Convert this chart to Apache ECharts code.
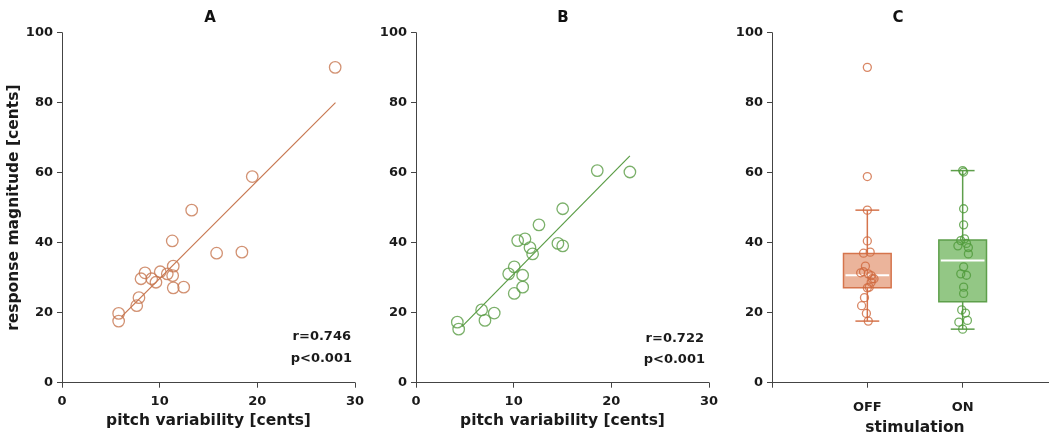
<!DOCTYPE html>
<html><head><meta charset="utf-8">
<script src="https://cdn.jsdelivr.net/npm/echarts@6/dist/echarts.min.js"></script>
<style>html,body{margin:0;padding:0;background:#fff}#c{width:1049px;height:439px}</style>
</head><body><div id="c"></div>
<script>
// Panel A (OFF): pitch variability vs response magnitude
const pitchVarA = [27.97, 19.48, 13.28, 11.29, 15.83, 18.42, 11.39, 8.50, 10.06, 10.78, 11.33, 8.09, 9.18, 9.62, 11.39, 12.46, 7.88, 7.65, 5.80, 5.80];
const respA     = [90.1, 58.9, 49.3, 40.5, 37.0, 37.3, 33.3, 31.4, 31.7, 31.1, 30.6, 29.7, 29.7, 28.7, 27.1, 27.3, 24.3, 22.0, 19.8, 17.6];
// Panel B (ON)
const pitchVarB = [18.56, 21.90, 15.02, 12.59, 10.41, 11.16, 14.53, 15.02, 11.67, 11.94, 10.06, 9.49, 10.92, 10.92, 10.06, 6.72, 8.01, 7.06, 4.23, 4.37];
const respB     = [60.6, 60.2, 49.7, 45.1, 40.6, 41.1, 39.8, 39.1, 38.6, 36.8, 33.1, 31.1, 30.7, 27.3, 25.5, 20.8, 19.9, 17.8, 17.3, 15.3];
// regression line end points
const fitA = [[6.1, 18.9], [28.0, 80.0]];
const fitB = [[4.7, 16.0], [21.9, 64.8]];
const statsA = ['r=0.746', 'p<0.001'];
const statsB = ['r=0.722', 'p<0.001'];
// Panel C
const stimCategories = ['OFF', 'ON'];
const boxStats = [ // min, Q1, median, Q3, max (whisker ends)
  [17.6, 27.1, 30.7, 36.9, 49.3],
  [15.3, 23.1, 34.9, 40.8, 60.6]
];
const jitterOff = [0, 0, 0, 0, -0.04, 0.03, -0.02, -0.07, -0.04, 0.01, 0.04, 0.07, 0.05, 0.04, 0, 0.02, -0.03, -0.06, -0.01, 0.01];
const jitterOn  = [0, 0.01, 0.01, 0.01, -0.02, 0.02, 0.04, -0.05, 0.06, 0.06, 0.01, -0.02, 0.04, 0.01, 0.01, -0.01, 0.03, 0.05, -0.04, 0];
const panelTitles = ['A', 'B', 'C'];
const xNameScatter = 'pitch variability [cents]';
const xNameBox = 'stimulation';
const yName = 'response magnitude [cents]';

const FONT = 'DejaVu Sans';
const TXT = '#1a1a1a';
const AX = '#444';
const orange = '#c77750', green = '#5a9c45';
const boxFill = ['#ebb49b', '#93c785'];
const boxBorder = ['#d5744c', '#5e9f4b'];

const chart = echarts.init(document.getElementById('c'), null, {renderer: 'canvas'});

function axisCommon(gi) {
  return {
    gridIndex: gi,
    axisLine: {show: true, lineStyle: {color: AX, width: 1}},
    axisTick: {show: true, length: 5, lineStyle: {color: AX}},
    splitLine: {show: false},
    axisLabel: {fontFamily: FONT, fontWeight: 'bold', fontSize: 13, color: TXT},
    nameTextStyle: {fontFamily: FONT, fontWeight: 'bold', fontSize: 15.5, color: TXT}
  };
}
function yAxis(gi, withName) {
  const a = axisCommon(gi);
  return Object.assign(a, {
    type: 'value', min: 0, max: 100, interval: 20,
    axisLabel: Object.assign(a.axisLabel, {margin: 9}),
    name: withName ? yName : '', nameLocation: 'middle', nameGap: 33
  });
}
function xScatter(gi) {
  const a = axisCommon(gi);
  return Object.assign(a, {
    type: 'value', min: 0, max: 30, interval: 10,
    axisLabel: Object.assign(a.axisLabel, {margin: 12}),
    name: xNameScatter, nameLocation: 'middle', nameGap: 29
  });
}
const xC = (function () {
  const a = axisCommon(2);
  return Object.assign(a, {
    type: 'value', min: 0, max: 3, interval: 1,
    axisLabel: Object.assign(a.axisLabel, {margin: 18, formatter: v => stimCategories[v - 1] || ''}),
    name: xNameBox, nameLocation: 'middle', nameGap: 37
  });
})();

const hollow = (c, s) => ({symbol: 'circle', symbolSize: s, itemStyle: {color: 'rgba(0,0,0,0)', borderColor: c, borderWidth: 1.3}});

const option = {
  animation: false,
  backgroundColor: '#fff',
  grid: [
    {left: 62, top: 32.7, width: 293, height: 350, outerBoundsMode: 'none'},
    {left: 416, top: 32.7, width: 293, height: 350, outerBoundsMode: 'none'},
    {left: 772, top: 32.7, width: 286, height: 350, outerBoundsMode: 'none'}
  ],
  xAxis: [xScatter(0), xScatter(1), xC],
  yAxis: [yAxis(0, true), yAxis(1, false), yAxis(2, false)],
  graphic: [
    {type: 'text', x: 210, y: 18, style: {text: panelTitles[0], font: `bold 15px "${FONT}"`, fill: '#111', align: 'center', verticalAlign: 'middle'}},
    {type: 'text', x: 563, y: 18, style: {text: panelTitles[1], font: `bold 15px "${FONT}"`, fill: '#111', align: 'center', verticalAlign: 'middle'}},
    {type: 'text', x: 898, y: 18, style: {text: panelTitles[2], font: `bold 15px "${FONT}"`, fill: '#111', align: 'center', verticalAlign: 'middle'}},
    {type: 'text', x: 351, y: 337, style: {text: statsA[0], font: `bold 13px "${FONT}"`, fill: TXT, align: 'right', verticalAlign: 'middle'}},
    {type: 'text', x: 352, y: 359, style: {text: statsA[1], font: `bold 13px "${FONT}"`, fill: TXT, align: 'right', verticalAlign: 'middle'}},
    {type: 'text', x: 704, y: 339, style: {text: statsB[0], font: `bold 13px "${FONT}"`, fill: TXT, align: 'right', verticalAlign: 'middle'}},
    {type: 'text', x: 705, y: 360, style: {text: statsB[1], font: `bold 13px "${FONT}"`, fill: TXT, align: 'right', verticalAlign: 'middle'}}
  ],
  series: [
    {type: 'line', xAxisIndex: 0, yAxisIndex: 0, data: fitA, symbol: 'none', lineStyle: {color: orange, width: 1.2}, z: 2},
    Object.assign({type: 'scatter', xAxisIndex: 0, yAxisIndex: 0, data: pitchVarA.map((x, i) => [x, respA[i]]), z: 3}, hollow(orange, 11.5)),
    {type: 'line', xAxisIndex: 1, yAxisIndex: 1, data: fitB, symbol: 'none', lineStyle: {color: green, width: 1.2}, z: 2},
    Object.assign({type: 'scatter', xAxisIndex: 1, yAxisIndex: 1, data: pitchVarB.map((x, i) => [x, respB[i]]), z: 3}, hollow(green, 11.5)),
    {
      type: 'custom', xAxisIndex: 2, yAxisIndex: 2, z: 2,
      data: boxStats.map((s, i) => [i + 1].concat(s)),
      encode: {x: 0, y: [1, 2, 3, 4, 5]},
      renderItem: function (params, api) {
        const i = params.dataIndex;
        const x = api.value(0);
        const p = [1, 2, 3, 4, 5].map(k => api.coord([x, api.value(k)]));
        const bw = api.size([0.5, 0])[0];
        const cw = api.size([0.25, 0])[0];
        const cx = p[0][0];
        const stroke = boxBorder[i];
        const ls = {stroke: stroke, lineWidth: 1.5};
        return {type: 'group', children: [
          {type: 'line', shape: {x1: cx, y1: p[0][1], x2: cx, y2: p[4][1]}, style: ls},
          {type: 'line', shape: {x1: cx - cw / 2, y1: p[0][1], x2: cx + cw / 2, y2: p[0][1]}, style: ls},
          {type: 'line', shape: {x1: cx - cw / 2, y1: p[4][1], x2: cx + cw / 2, y2: p[4][1]}, style: ls},
          {type: 'rect', shape: {x: cx - bw / 2, y: p[3][1], width: bw, height: p[1][1] - p[3][1]}, style: {fill: boxFill[i], stroke: stroke, lineWidth: 1.5}},
          {type: 'line', shape: {x1: cx - bw / 2 + 2, y1: p[2][1], x2: cx + bw / 2 - 2, y2: p[2][1]}, style: {stroke: '#fff', lineWidth: 2}}
        ]};
      }
    },
    Object.assign({type: 'scatter', xAxisIndex: 2, yAxisIndex: 2, data: respA.map((y, i) => [1 + jitterOff[i], y]), z: 4}, hollow('#d0693f', 8)),
    Object.assign({type: 'scatter', xAxisIndex: 2, yAxisIndex: 2, data: respB.map((y, i) => [2 + jitterOn[i], y]), z: 4}, hollow('#4f9a3a', 8))
  ]
};
chart.setOption(option);
</script>
</body></html>
